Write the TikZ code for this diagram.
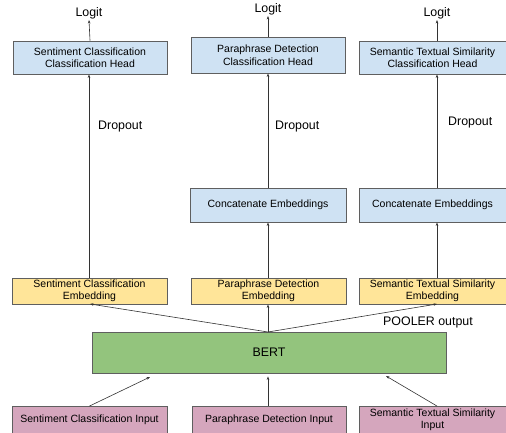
\documentclass[tikz,border=0pt]{standalone}
\usepackage{fontspec}
\setmainfont{Liberation Sans}
\usetikzlibrary{arrows.meta}
\definecolor{hblue}{HTML}{CFE2F3}
\definecolor{hyellow}{HTML}{FFE599}
\definecolor{hgreen}{HTML}{93C47D}
\definecolor{hpink}{HTML}{D5A6BD}
\definecolor{hborder}{HTML}{5F5F5F}
\definecolor{hline}{HTML}{333333}
\begin{document}
\begin{tikzpicture}[x=1pt,y=-1pt,
  box/.style={draw=hborder,line width=0.9pt,rectangle,inner sep=0pt,align=center,
    font=\fontsize{10.5}{12.5}\selectfont},
  bluebox/.style={box,fill=hblue},
  yelbox/.style={box,fill=hyellow},
  pinkbox/.style={box,fill=hpink},
  greenbox/.style={box,fill=hgreen,font=\fontsize{12.4}{14}\selectfont},
  lbl/.style={font=\fontsize{12.4}{14}\selectfont,inner sep=1pt},
  conn/.style={draw=hline,line width=0.6pt,-{Stealth[length=3.5pt,width=2.6pt]}}
]
\useasboundingbox (0,0) rectangle (506,433);
% heads
\node[bluebox,minimum width=154pt,minimum height=33pt] (h1) at (90,57.5) {Sentiment Classification\\Classification Head};
\node[bluebox,minimum width=154pt,minimum height=36pt] (h2) at (268,55) {Paraphrase Detection\\Classification Head};
\node[bluebox,minimum width=147pt,minimum height=33pt] (h3) at (432.5,57.5) {Semantic Textual Similarity\\Classification Head};
% logits
\node[lbl] (l1) at (89,13) {Logit};
\node[lbl] (l2) at (268,9) {Logit};
\node[lbl] (l3) at (437,13) {Logit};
% dropout
\node[lbl,anchor=west] (d1) at (97,127) {Dropout};
\node[lbl,anchor=west] (d2) at (274,127) {Dropout};
\node[lbl,anchor=west] (d3) at (447,123) {Dropout};
% concat
\node[bluebox,minimum width=156pt,minimum height=34pt] (c2) at (268,205) {Concatenate Embeddings};
\node[bluebox,minimum width=147pt,minimum height=34pt] (c3) at (432.5,205) {Concatenate Embeddings};
% embeddings
\node[yelbox,minimum width=155pt,minimum height=26pt] (e1) at (89.5,291) {Sentiment Classification\\Embedding};
\node[yelbox,minimum width=155pt,minimum height=26pt] (e2) at (268.5,291) {Paraphrase Detection\\Embedding};
\node[yelbox,minimum width=147pt,minimum height=26pt] (e3) at (432.5,291) {Semantic Textual Similarity\\Embedding};
% BERT
\node[greenbox,minimum width=354pt,minimum height=41pt] (bert) at (269,352.5) {BERT};
\node[lbl] (pool) at (428,322) {POOLER output};
% inputs
\node[pinkbox,minimum width=155pt,minimum height=27pt] (i1) at (89.5,420) {Sentiment Classification Input};
\node[pinkbox,minimum width=154pt,minimum height=27pt] (i2) at (269,420) {Paraphrase Detection Input};
\node[pinkbox,minimum width=147pt,minimum height=27pt] (i3) at (432.5,420) {Semantic Textual Similarity\\Input};
% coordinates
\coordinate (bt) at (268,332);
\coordinate (b1) at (150,377);
\coordinate (b3) at (386,376);
\coordinate (e1b) at (90,304);
\coordinate (e3b) at (437,304);
% connectors
\draw[conn] (h1.north) -- (l1.south);
\draw[conn] (h2.north) -- (l2.south);
\draw[conn] (h3.north -| l3) -- (l3.south);
\draw[conn] (e1.north -| l1) -- (h1.south -| l1);
\draw[conn] (c2.north) -- (h2.south);
\draw[conn] (c3.north -| l3) -- (h3.south -| l3);
\draw[conn] (e2.north -| c2) -- (c2.south);
\draw[conn] (e3.north -| l3) -- (c3.south -| l3);
\draw[conn] (bt) -- (e1b);
\draw[conn] (bt) -- (e2.south -| bt);
\draw[conn] (bt) -- (e3b);
\draw[conn] (i1.north) -- (b1);
\draw[conn,shorten >=3pt] (i2.north -| bt) -- (bert.south -| bt);
\draw[conn] (i3.north -| e3b) -- (b3);
\end{tikzpicture}
\end{document}
